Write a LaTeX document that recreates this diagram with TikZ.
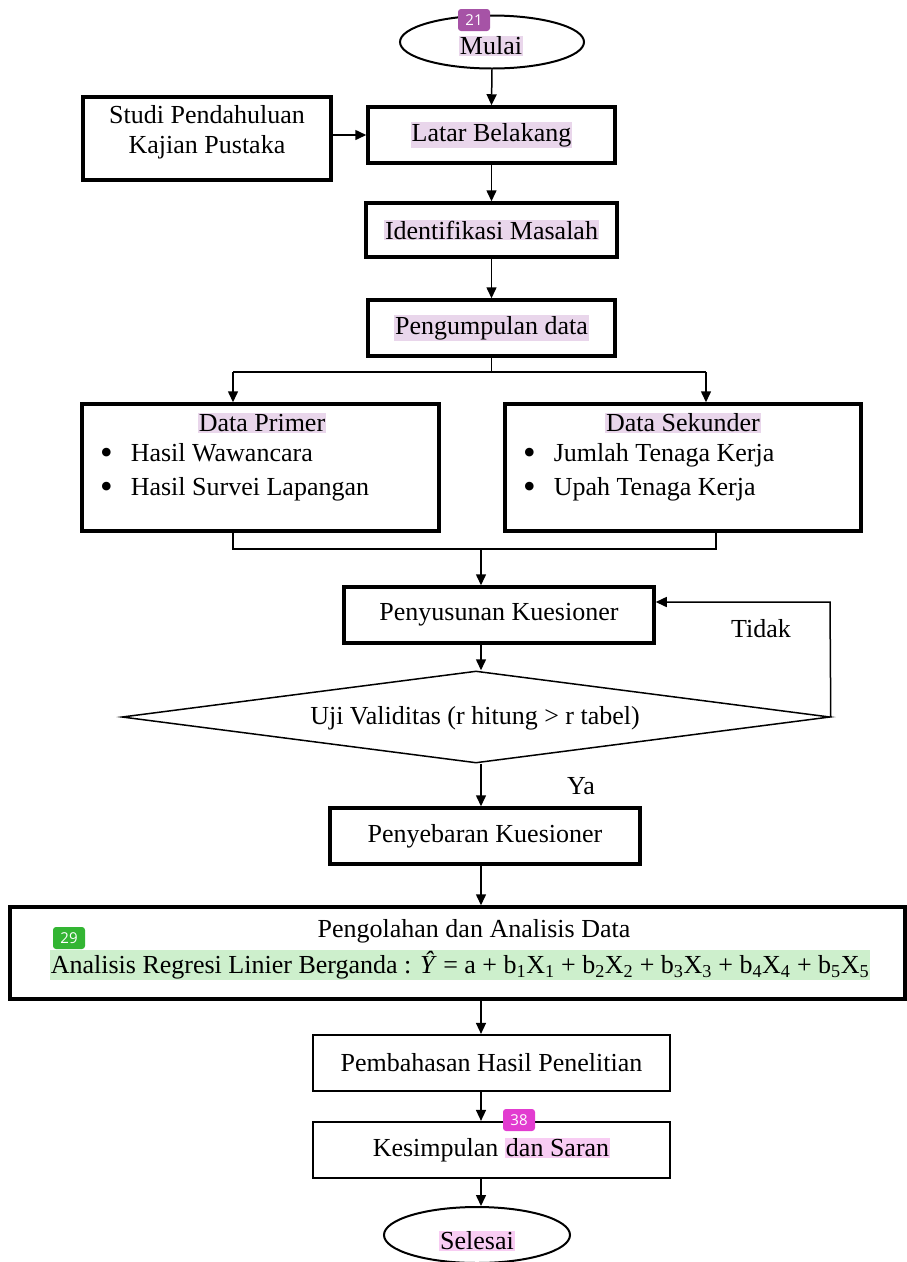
\documentclass[tikz,border=0pt]{standalone}
\usepackage{fontspec}
\setmainfont{Liberation Serif}
\newfontfamily\badgefont{Open Sans}
\usetikzlibrary{arrows.meta,shapes.geometric}
\definecolor{hlpurple}{HTML}{E9D6EB}
\definecolor{bgpurple}{HTML}{A653A6}
\definecolor{hlgreen}{HTML}{CDEFCC}
\definecolor{bggreen}{HTML}{33B533}
\definecolor{hlpink}{HTML}{F8CCF3}
\definecolor{bgpink}{HTML}{E23CD0}
\newcommand{\hl}[2]{{\setlength{\fboxsep}{1pt}\colorbox{#1}{#2}}}
\newcommand{\bigbul}{{\fontsize{36}{34}\selectfont\raisebox{-3.5pt}{\textbullet}}}
\tikzset{
  thickbox/.style={draw, line width=3.5pt, inner sep=0pt},
  thinbox/.style={draw, line width=2.2pt, inner sep=0pt},
  oval/.style={draw, ellipse, line width=2pt, inner sep=0pt},
  txt/.style={inner sep=0pt},
  arr/.style={line width=1.5pt, -{Triangle[length=11pt,width=10pt]}},
  ln/.style={line width=1.5pt},
  badge/.style={fill=#1, rounded corners=3pt, text=white, font=\badgefont\fontsize{15}{15}\selectfont, minimum width=32pt, minimum height=22pt, inner sep=0pt}
}
\begin{document}
\begin{tikzpicture}[x=1pt,y=-1pt,font=\fontsize{26}{30}\selectfont]
\useasboundingbox (0,0) rectangle (906,1262);

% Start
\node[oval, minimum width=184pt, minimum height=53pt] (mulai) at (492,42) {};
\node[txt] (mulaitxt) at (491,46) {\hl{hlpurple}{Mulai}};
\node[badge=bgpurple] (b21) at (474,20) {21};

% Studi / Latar
\node[thickbox, minimum width=248pt, minimum height=83pt] (studi) at (207,138.5) {};
\node[txt, align=center, font=\fontsize{26}{30}\selectfont] (studitxt) at (207,132) {Studi Pendahuluan\\Kajian Pustaka};
\node[thickbox, minimum width=247pt, minimum height=56pt] (latar) at (491.5,135) {\hl{hlpurple}{Latar Belakang}};

% Identifikasi, Pengumpulan
\node[thickbox, minimum width=251pt, minimum height=54pt] (ident) at (491.5,230) {\hl{hlpurple}{Identifikasi Masalah}};
\node[thickbox, minimum width=247pt, minimum height=56pt] (peng) at (491.5,328) {\hl{hlpurple}{Pengumpulan data}};

% Data boxes
\node[thickbox, minimum width=357pt, minimum height=127pt] (dp) at (260.5,467.5) {};
\node[txt] (dptitle) at (262,423) {\hl{hlpurple}{Data Primer}};
\node[txt, anchor=north west, font=\fontsize{26}{34}\selectfont] (dplist) at (100,437)
  {\begin{tabular}{@{}l@{\hspace{18pt}}l@{}}\bigbul & Hasil Wawancara\\ \bigbul & Hasil Survei Lapangan\end{tabular}};
\node[thickbox, minimum width=356pt, minimum height=127pt] (ds) at (683,467.5) {};
\node[txt] (dstitle) at (683,423) {\hl{hlpurple}{Data Sekunder}};
\node[txt, anchor=north west, font=\fontsize{26}{34}\selectfont] (dslist) at (523,437)
  {\begin{tabular}{@{}l@{\hspace{18pt}}l@{}}\bigbul & Jumlah Tenaga Kerja\\ \bigbul & Upah Tenaga Kerja\end{tabular}};

% Penyusunan and diamond
\node[thickbox, minimum width=310pt, minimum height=56pt] (pen) at (499,615) {Penyusunan Kuesioner};
\node[draw, diamond, line width=1.5pt, inner sep=0pt, minimum width=708pt, minimum height=92pt] (dia) at (476,717) {};
\node[txt] (diatxt) at (475,718) {Uji Validitas (r hitung {>} r tabel)};
\node[txt] (tidak) at (761,629) {Tidak};
\node[txt] (ya) at (581,786) {Ya};

% Penyebaran, Pengolahan
\node[thickbox, minimum width=310pt, minimum height=56pt] (peny) at (485,836) {Penyebaran Kuesioner};
\node[thickbox, minimum width=895pt, minimum height=92pt] (olah) at (457.5,953) {};
\node[txt] (olahtxt) at (474,931) {Pengolahan dan Analisis Data};
\node[txt] (eq) at (460,965) {\hl{hlgreen}{Analisis Regresi Linier Berganda : \textit{Ŷ} = a + b\textsubscript{1}X\textsubscript{1} + b\textsubscript{2}X\textsubscript{2} + b\textsubscript{3}X\textsubscript{3} + b\textsubscript{4}X\textsubscript{4} + b\textsubscript{5}X\textsubscript{5}}};
\node[badge=bggreen] (b29) at (69,938) {29};

% Pembahasan, Kesimpulan, Selesai
\node[thinbox, minimum width=357pt, minimum height=56pt] (bahas) at (491.5,1063) {Pembahasan Hasil Penelitian};
\node[thinbox, minimum width=357pt, minimum height=56pt] (simp) at (491.5,1150) {Kesimpulan \hl{hlpink}{dan Saran}};
\node[badge=bgpink] (b38) at (519,1120) {38};
\node[oval, minimum width=186pt, minimum height=56pt] (selesai) at (477,1235) {};
\node[txt] (selesaitxt) at (477,1241) {\hl{hlpink}{Selesai}};

% Connectors
\draw[arr] (mulai.south) -- (latar.north);
\draw[arr] (studi.east |- latar.west) -- (latar.west);
\draw[arr] (latar.south) -- (ident.north);
\draw[arr] (ident.south) -- (peng.north);
\coordinate (bl) at (233,372);
\coordinate (br) at (706,372);
\draw[ln] (peng.south) -- (peng.south |- bl);
\draw[ln] (bl) -- (br);
\draw[arr] (bl) -- (bl |- dp.north);
\draw[arr] (br) -- (br |- ds.north);
\coordinate (ml) at (233,549);
\coordinate (mr) at (716,549);
\coordinate (mc) at (481,549);
\draw[ln] (ml |- dp.south) -- (ml) -- (mr) -- (mr |- ds.south);
\draw[arr] (mc) -- (mc |- pen.north);
\draw[arr] (mc |- pen.south) -- (dia.north -| mc);
\coordinate (tk) at (830,602);
\draw[arr] (dia.east) -- (tk) -- (tk -| pen.east);
\draw[arr] (dia.south -| mc) -- (mc |- peny.north);
\draw[arr] (mc |- peny.south) -- (mc |- olah.north);
\draw[arr] (mc |- olah.south) -- (mc |- bahas.north);
\draw[arr] (mc |- bahas.south) -- (mc |- simp.north);
\draw[arr] (mc |- simp.south) -- (mc |- selesai.north);
\end{tikzpicture}
\end{document}
